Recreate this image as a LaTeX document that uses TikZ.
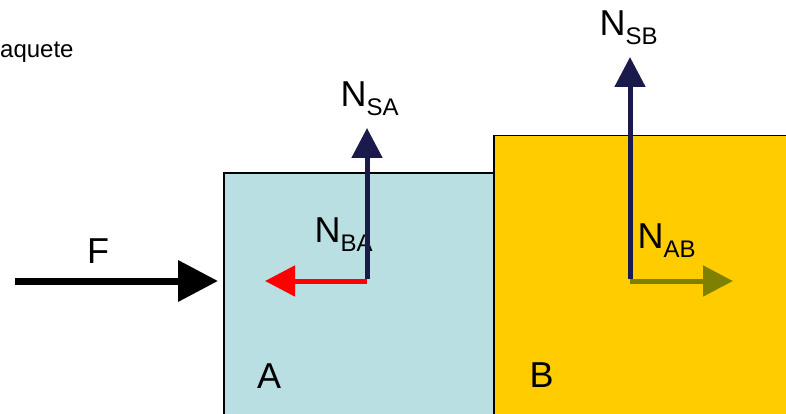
\documentclass[tikz,border=0pt]{standalone}
\usepackage{fontspec}
\setmainfont{Liberation Sans}
\usetikzlibrary{arrows.meta}
\definecolor{ac}{RGB}{186,223,227}
\definecolor{bc}{RGB}{255,204,0}
\definecolor{nc}{RGB}{26,26,77}
\definecolor{oc}{RGB}{128,128,0}
\newcommand{\nsub}[2]{#1\raisebox{-9pt}{\fontsize{24}{24}\selectfont #2}}
\tikzset{blk/.style={draw,line width=1.5pt,anchor=north west,inner sep=0pt},
 lbl/.style={anchor=base west,inner sep=0pt,font=\fontsize{36}{36}\selectfont},
 force/.style={-{Triangle[length=30pt,width=30pt]},line width=5pt}}
\begin{document}
\begin{tikzpicture}[x=1pt,y=-1pt]
\useasboundingbox (0,0) rectangle (786,414);
\clip (0,0) rectangle (786,414);
% blocks
\node[blk,fill=ac,minimum width=270pt,minimum height=260pt] (A) at (223,172) {};
\node[blk,fill=bc,minimum width=310pt,minimum height=300pt] (B) at (493,135) {};
% labels
\node[lbl,font=\fontsize{24}{24}\selectfont] (pq) at (0,58) {aquete};
\node[lbl] (lF) at (87,263) {F};
\node[lbl] (lA) at (257,388) {A};
\node[lbl] (lB) at (529.5,387) {B};
\node[lbl] (lSA) at (340.5,107) {\nsub{N}{SA}};
\node[lbl] (lBA) at (314.5,242) {\nsub{N}{BA}};
\node[lbl] (lSB) at (599.5,36) {\nsub{N}{SB}};
\node[lbl] (lAB) at (637.5,248) {\nsub{N}{AB}};
% points of action
\coordinate (pa) at (367,281);
\coordinate (pb) at (630,281);
\coordinate (fs) at (15,281);
\coordinate (ft) at (218,281);
\coordinate (tSA) at (367,128);
\coordinate (tBA) at (265,281);
\coordinate (tSB) at (630,57);
\coordinate (tAB) at (733,281);
% forces
\draw[force,-{Triangle[length=40pt,width=40pt]},line width=7pt] (fs)--(ft);
\draw[force,red] (pa)--(tBA);
\draw[force,nc] ([yshift=2pt]pa)--(tSA);
\draw[force,oc] (pb)--(tAB);
\draw[force,nc] ([yshift=2pt]pb)--(tSB);
\end{tikzpicture}
\end{document}
